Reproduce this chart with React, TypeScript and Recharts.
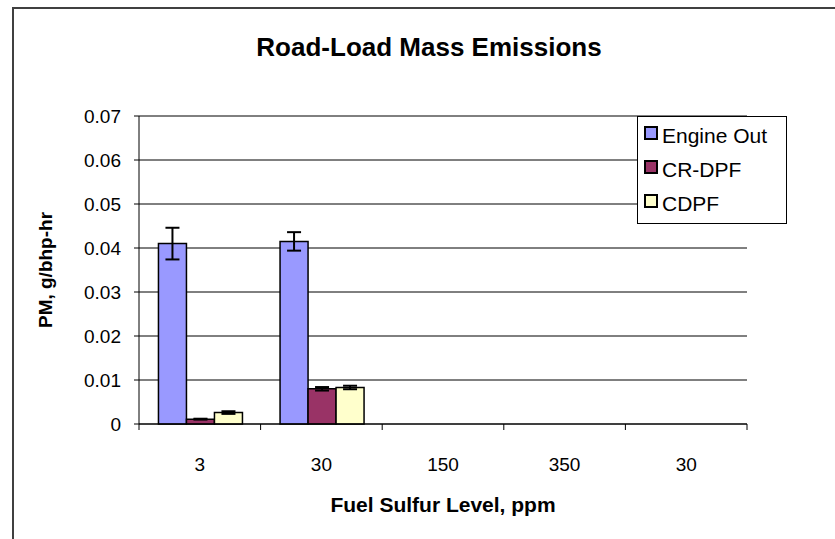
import { BarChart, Bar, XAxis, YAxis, CartesianGrid, Legend, ErrorBar, Label } from 'recharts';

const categories = ['3', '30', '150', '350', '30'];
const engineOut = [0.041, 0.0415, null, null, null];
const engineOutErr = [0.0036, 0.0021, null, null, null];
const crDpf = [0.0011, 0.008, null, null, null];
const crDpfErr = [0.0001, 0.0004, null, null, null];
const cdpf = [0.0026, 0.0083, null, null, null];
const cdpfErr = [0.0003, 0.0004, null, null, null];
const yTicks = [0, 0.01, 0.02, 0.03, 0.04, 0.05, 0.06, 0.07];

const seriesColors = { engine: '#9999FF', cr: '#993366', cdpf: '#FFFFCC' };
const FONT = 'Arial, "Liberation Sans", sans-serif';

const data = categories.map((c, i) => ({
  key: 'c' + i,
  label: c,
  engine: engineOut[i],
  engineErr: engineOutErr[i],
  cr: crDpf[i],
  crErr: crDpfErr[i],
  cdpf: cdpf[i],
  cdpfErr: cdpfErr[i],
}));

const legendItems = [
  { name: 'Engine Out', color: seriesColors.engine },
  { name: 'CR-DPF', color: seriesColors.cr },
  { name: 'CDPF', color: seriesColors.cdpf },
];

// Excel style: tick marks sit between the categories, labels in the middle
const CategoryTick = (props: any) => {
  const { x, y, payload, index, visibleTicksCount } = props;
  const half = payload.offset || 0;
  return (
    <g>
      <line x1={x - half} y1={y - 6} x2={x - half} y2={y} stroke="#000" />
      {index === visibleTicksCount - 1 && (
        <line x1={x + half} y1={y - 6} x2={x + half} y2={y} stroke="#000" />
      )}
      <text x={x} y={y + 41} textAnchor="middle" fontSize={19} fontFamily={FONT} fill="#000">
        {categories[index]}
      </text>
    </g>
  );
};

const LegendBox = () => (
  <div
    style={{
      background: '#fff',
      border: '1px solid #000',
      padding: '2px 8px 2px 6px',
      fontFamily: FONT,
      fontSize: 21,
    }}
  >
    {legendItems.map((it) => (
      <div key={it.name} style={{ display: 'flex', alignItems: 'center', height: 34 }}>
        <span
          style={{
            display: 'inline-block',
            width: 10,
            height: 10,
            border: '2px solid #000',
            background: it.color,
            marginRight: 4,
            marginTop: -6,
          }}
        />
        <span>{it.name}</span>
      </div>
    ))}
  </div>
);

export default function App() {
  return (
    <div style={{ position: 'absolute', left: 0, top: 0, width: 835, height: 539, overflow: 'hidden', background: '#fff' }}>
      <div
        style={{
          position: 'absolute',
          left: 12,
          top: 7,
          width: 900,
          height: 600,
          borderLeft: '2px solid #404040',
          borderTop: '2px solid #404040',
        }}
      />
      <div
        style={{
          position: 'absolute',
          left: 0,
          width: 858,
          top: 32,
          textAlign: 'center',
          fontFamily: FONT,
          fontWeight: 'bold',
          fontSize: 26,
        }}
      >
        Road-Load Mass Emissions
      </div>
      <BarChart
        width={835}
        height={539}
        data={data}
        margin={{ top: 116, right: 88, bottom: 85, left: 79 }}
        barCategoryGap="16%"
        barGap={0}
        style={{ position: 'absolute', left: 0, top: 0 }}
      >
        <CartesianGrid horizontal vertical={false} stroke="#000" />
        <XAxis
          dataKey="key"
          height={30}
          tickLine={false}
          tickSize={6}
          tickMargin={0}
          axisLine={{ stroke: '#000' }}
          tick={<CategoryTick />}
          interval={0}
        >
          <Label
            value="Fuel Sulfur Level, ppm"
            position="bottom"
            offset={43}
            style={{ fontFamily: FONT, fontWeight: 'bold', fontSize: 21, fill: '#000' }}
          />
        </XAxis>
        <XAxis xAxisId="top" orientation="top" dataKey="key" height={0} tick={false} tickLine={false} axisLine={{ stroke: '#808080', strokeWidth: 2 }} />
        <YAxis
          width={60}
          domain={[0, 0.07]}
          ticks={yTicks}
          interval={0}
          tickSize={5}
          tickMargin={13}
          axisLine={{ stroke: '#000' }}
          tickLine={{ stroke: '#000' }}
          tickFormatter={(v: number) => (v === 0 ? '0' : v.toFixed(2))}
          tick={{ fontFamily: FONT, fontSize: 19, fill: '#000' }}
        >
          <Label
            value="PM, g/bhp-hr"
            angle={-90}
            position="left"
            offset={34}
            style={{ fontFamily: FONT, fontWeight: 'bold', fontSize: 19, fill: '#000', textAnchor: 'middle' }}
          />
        </YAxis>
        <YAxis yAxisId="right" orientation="right" width={0} domain={[0, 0.07]} tick={false} tickLine={false} axisLine={{ stroke: '#808080', strokeWidth: 2 }} />
        <Legend
          layout="vertical"
          align="center"
          verticalAlign="middle"
          content={<LegendBox />}
          wrapperStyle={{ left: 637, top: 116, width: 150, height: 'auto' }}
        />
        <Bar dataKey="engine" name="Engine Out" fill={seriesColors.engine} stroke="#000" strokeWidth={1.5} isAnimationActive={false}>
          <ErrorBar dataKey="engineErr" width={7} stroke="#000" strokeWidth={2} />
        </Bar>
        <Bar dataKey="cr" name="CR-DPF" fill={seriesColors.cr} stroke="#000" strokeWidth={1.5} isAnimationActive={false}>
          <ErrorBar dataKey="crErr" width={7} stroke="#000" strokeWidth={2} />
        </Bar>
        <Bar dataKey="cdpf" name="CDPF" fill={seriesColors.cdpf} stroke="#000" strokeWidth={1.5} isAnimationActive={false}>
          <ErrorBar dataKey="cdpfErr" width={7} stroke="#000" strokeWidth={2} />
        </Bar>
      </BarChart>
    </div>
  );
}
